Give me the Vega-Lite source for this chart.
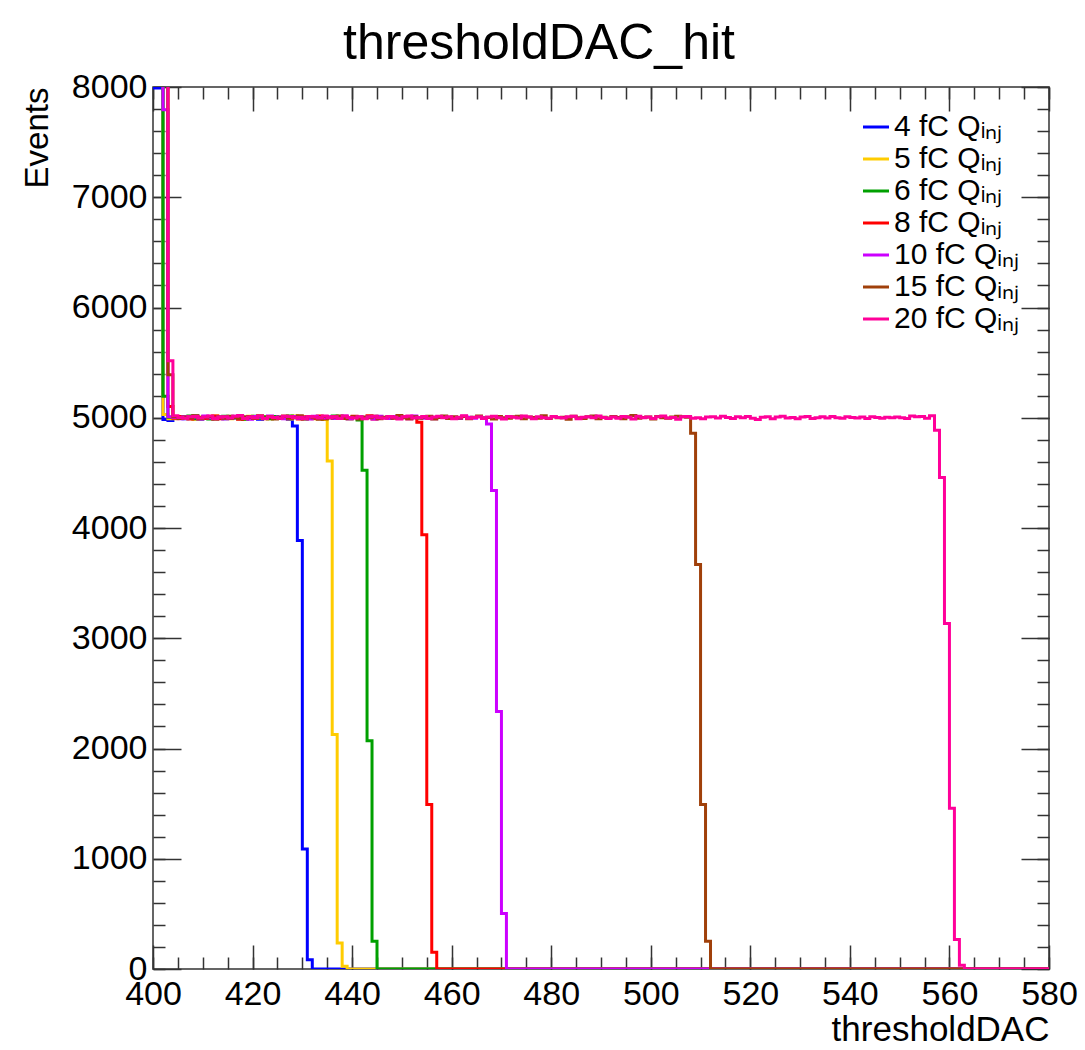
{
"$schema": "https://vega.github.io/schema/vega-lite/v6.json",
"width": 896, "height": 882,
"autosize": "none",
"padding": {"left": 153, "top": 87, "right": 36, "bottom": 81},
"background": "white",
"config": {"view": {"stroke": "#333333", "strokeWidth": 1.5}, "font": "Liberation Sans"},
"title": {"text": "thresholdDAC_hit", "font": "Liberation Sans", "fontSize": 50, "fontWeight": "normal", "color": "black", "anchor": "middle", "frame": "group", "dx": -62, "dy": 61, "baseline": "alphabetic", "offset": 22},
"data": {"values": [
{"s":"4","x":400,"y":7990},{"s":"4","x":401,"y":7990},{"s":"4","x":402,"y":4985},{"s":"4","x":403,"y":4975},
{"s":"4","x":404,"y":4998},{"s":"4","x":405,"y":5010},{"s":"4","x":406,"y":4992},{"s":"4","x":407,"y":5003},{"s":"4","x":408,"y":5015},{"s":"4","x":409,"y":4988},{"s":"4","x":410,"y":5006},{"s":"4","x":411,"y":4995},{"s":"4","x":412,"y":5012},{"s":"4","x":413,"y":5001},{"s":"4","x":414,"y":4990},{"s":"4","x":415,"y":5008},{"s":"4","x":416,"y":4997},{"s":"4","x":417,"y":5014},{"s":"4","x":418,"y":4993},{"s":"4","x":419,"y":5005},{"s":"4","x":420,"y":5000},{"s":"4","x":421,"y":4987},{"s":"4","x":422,"y":5011},{"s":"4","x":423,"y":4996},{"s":"4","x":424,"y":5009},{"s":"4","x":425,"y":4994},{"s":"4","x":426,"y":5003},{"s":"4","x":427,"y":4985},
{"s":"4","x":428,"y":4926},{"s":"4","x":429,"y":3887},{"s":"4","x":430,"y":1089},{"s":"4","x":431,"y":84},{"s":"4","x":432,"y":0},{"s":"4","x":580,"y":0},
{"s":"5","x":400,"y":8060},{"s":"5","x":401,"y":8060},{"s":"5","x":402,"y":5030},{"s":"5","x":403,"y":4990},
{"s":"5","x":404,"y":4990},{"s":"5","x":405,"y":5004},{"s":"5","x":406,"y":4996},{"s":"5","x":407,"y":5012},{"s":"5","x":408,"y":4987},{"s":"5","x":409,"y":5007},{"s":"5","x":410,"y":5001},{"s":"5","x":411,"y":4993},{"s":"5","x":412,"y":5016},{"s":"5","x":413,"y":4998},{"s":"5","x":414,"y":5005},{"s":"5","x":415,"y":4991},{"s":"5","x":416,"y":5010},{"s":"5","x":417,"y":4999},{"s":"5","x":418,"y":4986},{"s":"5","x":419,"y":5013},{"s":"5","x":420,"y":5002},{"s":"5","x":421,"y":4995},{"s":"5","x":422,"y":5008},{"s":"5","x":423,"y":4990},{"s":"5","x":424,"y":5011},{"s":"5","x":425,"y":4997},{"s":"5","x":426,"y":5004},{"s":"5","x":427,"y":4989},{"s":"5","x":428,"y":5015},{"s":"5","x":429,"y":5000},{"s":"5","x":430,"y":4994},{"s":"5","x":431,"y":5009},{"s":"5","x":432,"y":4992},{"s":"5","x":433,"y":5006},{"s":"5","x":434,"y":4984},
{"s":"5","x":435,"y":4608},{"s":"5","x":436,"y":2128},{"s":"5","x":437,"y":236},{"s":"5","x":438,"y":25},{"s":"5","x":439,"y":0},{"s":"5","x":580,"y":0},
{"s":"6","x":400,"y":8060},{"s":"6","x":401,"y":8060},{"s":"6","x":402,"y":5194},{"s":"6","x":403,"y":5005},
{"s":"6","x":404,"y":5008},{"s":"6","x":405,"y":4995},{"s":"6","x":406,"y":5003},{"s":"6","x":407,"y":5017},{"s":"6","x":408,"y":4991},{"s":"6","x":409,"y":5000},{"s":"6","x":410,"y":5012},{"s":"6","x":411,"y":4989},{"s":"6","x":412,"y":5006},{"s":"6","x":413,"y":4998},{"s":"6","x":414,"y":5014},{"s":"6","x":415,"y":4993},{"s":"6","x":416,"y":5004},{"s":"6","x":417,"y":5010},{"s":"6","x":418,"y":4987},{"s":"6","x":419,"y":5001},{"s":"6","x":420,"y":5013},{"s":"6","x":421,"y":4996},{"s":"6","x":422,"y":5007},{"s":"6","x":423,"y":4990},{"s":"6","x":424,"y":5011},{"s":"6","x":425,"y":5002},{"s":"6","x":426,"y":4994},{"s":"6","x":427,"y":5016},{"s":"6","x":428,"y":4999},{"s":"6","x":429,"y":5005},{"s":"6","x":430,"y":4988},{"s":"6","x":431,"y":5009},{"s":"6","x":432,"y":4997},{"s":"6","x":433,"y":5012},{"s":"6","x":434,"y":4992},{"s":"6","x":435,"y":5003},{"s":"6","x":436,"y":5015},{"s":"6","x":437,"y":4995},{"s":"6","x":438,"y":5006},{"s":"6","x":439,"y":4991},{"s":"6","x":440,"y":5010},{"s":"6","x":441,"y":4980},
{"s":"6","x":442,"y":4524},{"s":"6","x":443,"y":2071},{"s":"6","x":444,"y":251},{"s":"6","x":445,"y":0},{"s":"6","x":580,"y":0},
{"s":"8","x":400,"y":8060},{"s":"8","x":401,"y":8060},{"s":"8","x":402,"y":8060},{"s":"8","x":403,"y":5103},
{"s":"8","x":404,"y":4996},{"s":"8","x":405,"y":5011},{"s":"8","x":406,"y":5002},{"s":"8","x":407,"y":4989},{"s":"8","x":408,"y":5014},{"s":"8","x":409,"y":5000},{"s":"8","x":410,"y":4993},{"s":"8","x":411,"y":5008},{"s":"8","x":412,"y":5017},{"s":"8","x":413,"y":4991},{"s":"8","x":414,"y":5005},{"s":"8","x":415,"y":4998},{"s":"8","x":416,"y":5012},{"s":"8","x":417,"y":4987},{"s":"8","x":418,"y":5003},{"s":"8","x":419,"y":5009},{"s":"8","x":420,"y":4995},{"s":"8","x":421,"y":5016},{"s":"8","x":422,"y":4990},{"s":"8","x":423,"y":5006},{"s":"8","x":424,"y":5001},{"s":"8","x":425,"y":4994},{"s":"8","x":426,"y":5013},{"s":"8","x":427,"y":4999},{"s":"8","x":428,"y":5007},{"s":"8","x":429,"y":4988},{"s":"8","x":430,"y":5010},{"s":"8","x":431,"y":5002},{"s":"8","x":432,"y":4996},{"s":"8","x":433,"y":5015},{"s":"8","x":434,"y":4992},{"s":"8","x":435,"y":5004},{"s":"8","x":436,"y":5011},{"s":"8","x":437,"y":4997},{"s":"8","x":438,"y":5008},{"s":"8","x":439,"y":4990},{"s":"8","x":440,"y":5013},{"s":"8","x":441,"y":5000},{"s":"8","x":442,"y":4995},{"s":"8","x":443,"y":5018},{"s":"8","x":444,"y":4989},{"s":"8","x":445,"y":5006},{"s":"8","x":446,"y":5003},{"s":"8","x":447,"y":4993},{"s":"8","x":448,"y":5012},{"s":"8","x":449,"y":4998},{"s":"8","x":450,"y":5009},{"s":"8","x":451,"y":4991},{"s":"8","x":452,"y":5004},
{"s":"8","x":453,"y":4960},{"s":"8","x":454,"y":3938},{"s":"8","x":455,"y":1491},{"s":"8","x":456,"y":151},{"s":"8","x":457,"y":0},{"s":"8","x":580,"y":0},
{"s":"10","x":400,"y":8060},{"s":"10","x":401,"y":8060},{"s":"10","x":402,"y":7794},{"s":"10","x":403,"y":5010},
{"s":"10","x":404,"y":5003},{"s":"10","x":405,"y":4992},{"s":"10","x":406,"y":5012},{"s":"10","x":407,"y":4999},{"s":"10","x":408,"y":5007},{"s":"10","x":409,"y":4988},{"s":"10","x":410,"y":5015},{"s":"10","x":411,"y":5001},{"s":"10","x":412,"y":4995},{"s":"10","x":413,"y":5010},{"s":"10","x":414,"y":4990},{"s":"10","x":415,"y":5006},{"s":"10","x":416,"y":5013},{"s":"10","x":417,"y":4997},{"s":"10","x":418,"y":5002},{"s":"10","x":419,"y":4986},{"s":"10","x":420,"y":5011},{"s":"10","x":421,"y":5004},{"s":"10","x":422,"y":4994},{"s":"10","x":423,"y":5016},{"s":"10","x":424,"y":4999},{"s":"10","x":425,"y":5008},{"s":"10","x":426,"y":4991},{"s":"10","x":427,"y":5005},{"s":"10","x":428,"y":5012},{"s":"10","x":429,"y":4996},{"s":"10","x":430,"y":5001},{"s":"10","x":431,"y":4989},{"s":"10","x":432,"y":5014},{"s":"10","x":433,"y":5003},{"s":"10","x":434,"y":4997},{"s":"10","x":435,"y":5009},{"s":"10","x":436,"y":4993},{"s":"10","x":437,"y":5006},{"s":"10","x":438,"y":5017},{"s":"10","x":439,"y":4990},{"s":"10","x":440,"y":5002},{"s":"10","x":441,"y":5010},{"s":"10","x":442,"y":4995},{"s":"10","x":443,"y":5007},{"s":"10","x":444,"y":4988},{"s":"10","x":445,"y":5013},{"s":"10","x":446,"y":5000},{"s":"10","x":447,"y":4994},{"s":"10","x":448,"y":5011},{"s":"10","x":449,"y":4998},{"s":"10","x":450,"y":5005},{"s":"10","x":451,"y":4992},{"s":"10","x":452,"y":5015},{"s":"10","x":453,"y":5003},{"s":"10","x":454,"y":4996},{"s":"10","x":455,"y":5009},{"s":"10","x":456,"y":4990},{"s":"10","x":457,"y":5006},{"s":"10","x":458,"y":5012},{"s":"10","x":459,"y":4997},{"s":"10","x":460,"y":5001},{"s":"10","x":461,"y":4993},{"s":"10","x":462,"y":5014},{"s":"10","x":463,"y":5004},{"s":"10","x":464,"y":4995},{"s":"10","x":465,"y":5008},{"s":"10","x":466,"y":4999},
{"s":"10","x":467,"y":4943},{"s":"10","x":468,"y":4340},{"s":"10","x":469,"y":2336},{"s":"10","x":470,"y":503},{"s":"10","x":471,"y":0},{"s":"10","x":580,"y":0},
{"s":"15","x":400,"y":8060},{"s":"15","x":401,"y":8060},{"s":"15","x":402,"y":8060},{"s":"15","x":403,"y":5390},
{"s":"15","x":404,"y":5010},{"s":"15","x":405,"y":4994},{"s":"15","x":406,"y":5006},{"s":"15","x":407,"y":4999},{"s":"15","x":408,"y":5018},{"s":"15","x":409,"y":4991},{"s":"15","x":410,"y":5003},{"s":"15","x":411,"y":5012},{"s":"15","x":412,"y":4987},{"s":"15","x":413,"y":5007},
{"s":"15","x":414,"y":4996},{"s":"15","x":415,"y":5014},{"s":"15","x":416,"y":5001},{"s":"15","x":417,"y":4990},{"s":"15","x":418,"y":5009},{"s":"15","x":419,"y":5004},{"s":"15","x":420,"y":4993},{"s":"15","x":421,"y":5016},{"s":"15","x":422,"y":4998},{"s":"15","x":423,"y":5011},
{"s":"15","x":424,"y":4989},{"s":"15","x":425,"y":5005},{"s":"15","x":426,"y":5013},{"s":"15","x":427,"y":4995},{"s":"15","x":428,"y":5002},{"s":"15","x":429,"y":5019},{"s":"15","x":430,"y":4992},{"s":"15","x":431,"y":5008},{"s":"15","x":432,"y":5000},{"s":"15","x":433,"y":4986},
{"s":"15","x":434,"y":5012},{"s":"15","x":435,"y":4997},{"s":"15","x":436,"y":5006},{"s":"15","x":437,"y":5015},{"s":"15","x":438,"y":4993},{"s":"15","x":439,"y":5003},{"s":"15","x":440,"y":5010},{"s":"15","x":441,"y":4988},{"s":"15","x":442,"y":5007},{"s":"15","x":443,"y":4999},
{"s":"15","x":444,"y":5014},{"s":"15","x":445,"y":4991},{"s":"15","x":446,"y":5004},{"s":"15","x":447,"y":5011},{"s":"15","x":448,"y":4996},{"s":"15","x":449,"y":5020},{"s":"15","x":450,"y":5001},{"s":"15","x":451,"y":4990},{"s":"15","x":452,"y":5009},{"s":"15","x":453,"y":4995},
{"s":"15","x":454,"y":5006},{"s":"15","x":455,"y":5013},{"s":"15","x":456,"y":4989},{"s":"15","x":457,"y":5002},{"s":"15","x":458,"y":5017},{"s":"15","x":459,"y":4994},{"s":"15","x":460,"y":5008},{"s":"15","x":461,"y":4998},{"s":"15","x":462,"y":5011},{"s":"15","x":463,"y":4992},
{"s":"15","x":464,"y":5005},{"s":"15","x":465,"y":5016},{"s":"15","x":466,"y":4997},{"s":"15","x":467,"y":5003},{"s":"15","x":468,"y":4988},{"s":"15","x":469,"y":5012},{"s":"15","x":470,"y":5000},{"s":"15","x":471,"y":4995},{"s":"15","x":472,"y":5009},{"s":"15","x":473,"y":5014},
{"s":"15","x":474,"y":4991},{"s":"15","x":475,"y":5006},{"s":"15","x":476,"y":5002},{"s":"15","x":477,"y":4996},{"s":"15","x":478,"y":5018},{"s":"15","x":479,"y":4993},{"s":"15","x":480,"y":5010},{"s":"15","x":481,"y":4999},{"s":"15","x":482,"y":5004},{"s":"15","x":483,"y":4987},
{"s":"15","x":484,"y":5013},{"s":"15","x":485,"y":5001},{"s":"15","x":486,"y":4994},{"s":"15","x":487,"y":5008},{"s":"15","x":488,"y":5015},{"s":"15","x":489,"y":4990},{"s":"15","x":490,"y":5005},{"s":"15","x":491,"y":4998},{"s":"15","x":492,"y":5011},{"s":"15","x":493,"y":5003},
{"s":"15","x":494,"y":4992},{"s":"15","x":495,"y":5009},{"s":"15","x":496,"y":5021},{"s":"15","x":497,"y":4996},{"s":"15","x":498,"y":5002},{"s":"15","x":499,"y":5007},{"s":"15","x":500,"y":4989},{"s":"15","x":501,"y":5012},{"s":"15","x":502,"y":5000},{"s":"15","x":503,"y":4995},
{"s":"15","x":504,"y":5006},{"s":"15","x":505,"y":5014},{"s":"15","x":506,"y":5010},{"s":"15","x":507,"y":5004},
{"s":"15","x":508,"y":4859},{"s":"15","x":509,"y":3670},{"s":"15","x":510,"y":1491},{"s":"15","x":511,"y":251},{"s":"15","x":512,"y":0},{"s":"15","x":580,"y":0},
{"s":"20","x":400,"y":8060},{"s":"20","x":401,"y":8060},{"s":"20","x":402,"y":8060},{"s":"20","x":403,"y":5517},
{"s":"20","x":404,"y":5018},{"s":"20","x":405,"y":5002},{"s":"20","x":406,"y":4995},{"s":"20","x":407,"y":5009},{"s":"20","x":408,"y":5012},{"s":"20","x":409,"y":4998},{"s":"20","x":410,"y":5006},{"s":"20","x":411,"y":5015},{"s":"20","x":412,"y":4991},{"s":"20","x":413,"y":5004},
{"s":"20","x":414,"y":5010},{"s":"20","x":415,"y":4997},{"s":"20","x":416,"y":5013},{"s":"20","x":417,"y":5020},{"s":"20","x":418,"y":4994},{"s":"20","x":419,"y":5007},{"s":"20","x":420,"y":5001},{"s":"20","x":421,"y":5016},{"s":"20","x":422,"y":4993},{"s":"20","x":423,"y":5008},
{"s":"20","x":424,"y":5003},{"s":"20","x":425,"y":4996},{"s":"20","x":426,"y":5014},{"s":"20","x":427,"y":5011},{"s":"20","x":428,"y":4999},{"s":"20","x":429,"y":5005},{"s":"20","x":430,"y":4990},{"s":"20","x":431,"y":5012},{"s":"20","x":432,"y":5006},{"s":"20","x":433,"y":4997},
{"s":"20","x":434,"y":5015},{"s":"20","x":435,"y":5002},{"s":"20","x":436,"y":5009},{"s":"20","x":437,"y":4994},{"s":"20","x":438,"y":5017},{"s":"20","x":439,"y":5003},{"s":"20","x":440,"y":4998},{"s":"20","x":441,"y":5010},{"s":"20","x":442,"y":4992},{"s":"20","x":443,"y":5007},
{"s":"20","x":444,"y":5013},{"s":"20","x":445,"y":5000},{"s":"20","x":446,"y":4995},{"s":"20","x":447,"y":5011},{"s":"20","x":448,"y":5004},{"s":"20","x":449,"y":4989},{"s":"20","x":450,"y":5008},{"s":"20","x":451,"y":5016},{"s":"20","x":452,"y":4997},{"s":"20","x":453,"y":5002},
{"s":"20","x":454,"y":5012},{"s":"20","x":455,"y":4993},{"s":"20","x":456,"y":5006},{"s":"20","x":457,"y":5014},{"s":"20","x":458,"y":4999},{"s":"20","x":459,"y":5009},{"s":"20","x":460,"y":4991},{"s":"20","x":461,"y":5005},{"s":"20","x":462,"y":5019},{"s":"20","x":463,"y":4996},
{"s":"20","x":464,"y":5003},{"s":"20","x":465,"y":5010},{"s":"20","x":466,"y":4994},{"s":"20","x":467,"y":5007},{"s":"20","x":468,"y":5013},{"s":"20","x":469,"y":5001},{"s":"20","x":470,"y":4988},{"s":"20","x":471,"y":5011},{"s":"20","x":472,"y":5004},{"s":"20","x":473,"y":4998},
{"s":"20","x":474,"y":5015},{"s":"20","x":475,"y":5006},{"s":"20","x":476,"y":4992},{"s":"20","x":477,"y":5009},{"s":"20","x":478,"y":5000},{"s":"20","x":479,"y":4995},{"s":"20","x":480,"y":5012},{"s":"20","x":481,"y":5003},{"s":"20","x":482,"y":4997},{"s":"20","x":483,"y":5008},
{"s":"20","x":484,"y":5014},{"s":"20","x":485,"y":4990},{"s":"20","x":486,"y":5005},{"s":"20","x":487,"y":5010},{"s":"20","x":488,"y":4999},{"s":"20","x":489,"y":5017},{"s":"20","x":490,"y":5002},{"s":"20","x":491,"y":4993},{"s":"20","x":492,"y":5007},{"s":"20","x":493,"y":4996},
{"s":"20","x":494,"y":5011},{"s":"20","x":495,"y":5004},{"s":"20","x":496,"y":4989},{"s":"20","x":497,"y":5013},{"s":"20","x":498,"y":5000},{"s":"20","x":499,"y":5006},{"s":"20","x":500,"y":4994},{"s":"20","x":501,"y":5009},{"s":"20","x":502,"y":5015},{"s":"20","x":503,"y":4998},
{"s":"20","x":504,"y":5003},{"s":"20","x":505,"y":4987},{"s":"20","x":506,"y":5008},{"s":"20","x":507,"y":5012},{"s":"20","x":508,"y":4995},{"s":"20","x":509,"y":5001},{"s":"20","x":510,"y":4991},{"s":"20","x":511,"y":5006},{"s":"20","x":512,"y":5010},{"s":"20","x":513,"y":4997},
{"s":"20","x":514,"y":5014},{"s":"20","x":515,"y":5002},{"s":"20","x":516,"y":4993},{"s":"20","x":517,"y":5008},{"s":"20","x":518,"y":4999},{"s":"20","x":519,"y":5011},{"s":"20","x":520,"y":4996},{"s":"20","x":521,"y":4985},{"s":"20","x":522,"y":5004},{"s":"20","x":523,"y":5009},
{"s":"20","x":524,"y":4992},{"s":"20","x":525,"y":5007},{"s":"20","x":526,"y":5013},{"s":"20","x":527,"y":4998},{"s":"20","x":528,"y":5003},{"s":"20","x":529,"y":4990},{"s":"20","x":530,"y":5006},{"s":"20","x":531,"y":5011},{"s":"20","x":532,"y":4994},{"s":"20","x":533,"y":5000},
{"s":"20","x":534,"y":5008},{"s":"20","x":535,"y":4997},{"s":"20","x":536,"y":5012},{"s":"20","x":537,"y":5001},{"s":"20","x":538,"y":4995},{"s":"20","x":539,"y":5009},{"s":"20","x":540,"y":5003},{"s":"20","x":541,"y":4998},{"s":"20","x":542,"y":5006},{"s":"20","x":543,"y":4993},
{"s":"20","x":544,"y":5010},{"s":"20","x":545,"y":5002},{"s":"20","x":546,"y":4996},{"s":"20","x":547,"y":5004},{"s":"20","x":548,"y":4999},{"s":"20","x":549,"y":5007},{"s":"20","x":550,"y":5001},{"s":"20","x":551,"y":4994},{"s":"20","x":552,"y":5015},{"s":"20","x":553,"y":5008},
{"s":"20","x":554,"y":5011},{"s":"20","x":555,"y":4996},{"s":"20","x":556,"y":5018},
{"s":"20","x":557,"y":4886},{"s":"20","x":558,"y":4457},{"s":"20","x":559,"y":3133},{"s":"20","x":560,"y":1457},{"s":"20","x":561,"y":268},{"s":"20","x":562,"y":33},{"s":"20","x":563,"y":0},{"s":"20","x":580,"y":0}
]},
"resolve": {"axis": {"x": "independent", "y": "independent"}},
"layer": [
{
"mark": {"type": "line", "interpolate": "step-after", "strokeWidth": 3, "clip": true},
"encoding": {
"x": {"field": "x", "type": "quantitative", "scale": {"domain": [400, 580], "nice": false, "zero": false},
"axis": {"orient": "bottom", "values": [400,420,440,460,480,500,520,540,560,580], "tickSize": -24, "tickWidth": 1.5, "tickColor": "#333333", "domain": false, "grid": false, "labelFont": "Liberation Sans", "labelFontSize": 34, "labelColor": "black", "labelPadding": 32, "labelOverlap": false, "labelFlush": false, "title": "thresholdDAC", "titleFont": "Liberation Sans", "titleFontSize": 35, "titleFontWeight": "normal", "titleColor": "black", "titleAnchor": "end", "titleAlign": "right", "titlePadding": 1}},
"y": {"field": "y", "type": "quantitative", "scale": {"domain": [0, 8000], "nice": false, "zero": true},
"axis": {"orient": "left", "values": [0,1000,2000,3000,4000,5000,6000,7000,8000], "format": "d", "tickSize": -28, "tickWidth": 1.5, "tickColor": "#333333", "domain": false, "grid": false, "labelFont": "Liberation Sans", "labelFontSize": 34, "labelColor": "black", "labelPadding": 34, "labelOverlap": false, "labelFlush": false, "title": "Events", "titleFont": "Liberation Sans", "titleFontSize": 33, "titleFontWeight": "normal", "titleColor": "black", "titleAnchor": "end", "titleAlign": "right", "titlePadding": 17}},
"color": {"field": "s", "type": "nominal", "sort": ["4","5","6","8","10","15","20"],
"scale": {"domain": ["4","5","6","8","10","15","20"], "range": ["#0000ff","#ffcc00","#00a000","#ff0000","#cc00ff","#a0400a","#ff0099"]},
"legend": {"orient": "none", "legendX": 708, "legendY": 25, "title": null, "padding": 0, "symbolType": "stroke", "symbolSize": 676, "symbolStrokeWidth": 3, "labelFont": "Liberation Sans", "labelFontSize": 30, "labelColor": "black", "labelOffset": 3, "labelLimit": 0, "rowPadding": 2, "labelExpr": "datum.label + ' fC Q\u1d62\u2099\u2c7c'"}}
}
},
{
"data": {"values": [{"x": 400, "y": 0}]},
"mark": {"type": "point", "opacity": 0},
"encoding": {
"x": {"field": "x", "type": "quantitative", "scale": {"domain": [400, 580], "nice": false, "zero": false},
"axis": {"orient": "bottom", "values": [400,405,410,415,420,425,430,435,440,445,450,455,460,465,470,475,480,485,490,495,500,505,510,515,520,525,530,535,540,545,550,555,560,565,570,575,580], "tickSize": -12, "tickWidth": 1.5, "tickColor": "#333333", "domain": false, "grid": false, "labels": false, "title": null}},
"y": {"field": "y", "type": "quantitative", "scale": {"domain": [0, 8000], "nice": false},
"axis": {"orient": "left", "values": [0,200,400,600,800,1000,1200,1400,1600,1800,2000,2200,2400,2600,2800,3000,3200,3400,3600,3800,4000,4200,4400,4600,4800,5000,5200,5400,5600,5800,6000,6200,6400,6600,6800,7000,7200,7400,7600,7800,8000], "tickSize": -12, "tickWidth": 1.5, "tickColor": "#333333", "domain": false, "grid": false, "labels": false, "title": null}}
}
},
{
"data": {"values": [{"x": 400, "y": 0}]},
"mark": {"type": "point", "opacity": 0},
"encoding": {
"x": {"field": "x", "type": "quantitative", "scale": {"domain": [400, 580], "nice": false, "zero": false},
"axis": {"orient": "top", "values": [400,420,440,460,480,500,520,540,560,580], "tickSize": -24, "tickWidth": 1.5, "tickColor": "#333333", "domain": false, "grid": false, "labels": false, "title": null}},
"y": {"field": "y", "type": "quantitative", "scale": {"domain": [0, 8000], "nice": false},
"axis": {"orient": "right", "values": [0,1000,2000,3000,4000,5000,6000,7000,8000], "tickSize": -28, "tickWidth": 1.5, "tickColor": "#333333", "domain": false, "grid": false, "labels": false, "title": null}}
}
},
{
"data": {"values": [{"x": 400, "y": 0}]},
"mark": {"type": "point", "opacity": 0},
"encoding": {
"x": {"field": "x", "type": "quantitative", "scale": {"domain": [400, 580], "nice": false, "zero": false},
"axis": {"orient": "top", "values": [400,405,410,415,420,425,430,435,440,445,450,455,460,465,470,475,480,485,490,495,500,505,510,515,520,525,530,535,540,545,550,555,560,565,570,575,580], "tickSize": -12, "tickWidth": 1.5, "tickColor": "#333333", "domain": false, "grid": false, "labels": false, "title": null}},
"y": {"field": "y", "type": "quantitative", "scale": {"domain": [0, 8000], "nice": false},
"axis": {"orient": "right", "values": [0,200,400,600,800,1000,1200,1400,1600,1800,2000,2200,2400,2600,2800,3000,3200,3400,3600,3800,4000,4200,4400,4600,4800,5000,5200,5400,5600,5800,6000,6200,6400,6600,6800,7000,7200,7400,7600,7800,8000], "tickSize": -12, "tickWidth": 1.5, "tickColor": "#333333", "domain": false, "grid": false, "labels": false, "title": null}}
}
}
]
}
